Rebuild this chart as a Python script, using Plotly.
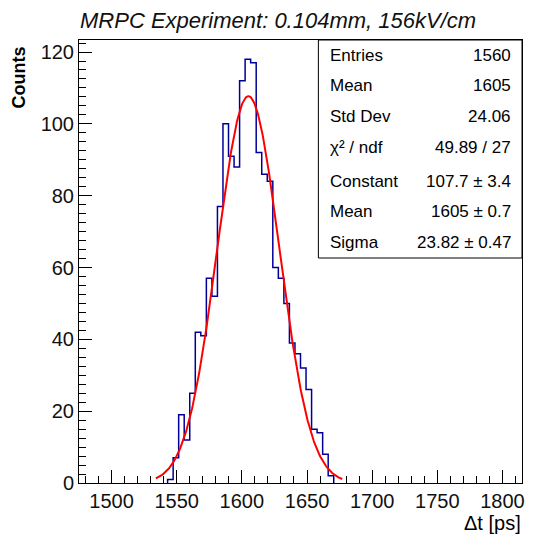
import numpy as np
import plotly.graph_objects as go

# ---- data ----
axis_x_range = [1475, 1815]
axis_y_range = [0, 123.35]
bin_width = 4.25
first_bin_low = 1543.0
counts = [1, 7, 19, 12, 25, 42, 41, 57, 52, 77, 100, 91, 88, 112, 118, 117, 92,
          86, 84, 60, 57, 50, 39, 36, 32, 26, 15, 14, 8, 2]

fit_constant = 107.7
fit_mean = 1605.0
fit_sigma = 23.82
fit_x_range = [1534, 1677]

x_ticks = [1500, 1550, 1600, 1650, 1700, 1750, 1800]
y_ticks = [0, 20, 40, 60, 80, 100, 120]

stats_labels = ["Entries", "Mean", "Std Dev", "χ² / ndf", "Constant", "Mean", "Sigma"]
stats_values = ["1560", "1605", "24.06", "49.89 / 27", "107.7 ± 3.4", "1605 ± 0.7", "23.82 ± 0.47"]

title_text = "MRPC Experiment: 0.104mm, 156kV/cm"
x_title = "Δt [ps]"
y_title = "Counts"

# ---- build ----
n = len(counts)
edges = [first_bin_low + i * bin_width for i in range(n + 1)]
hx = [edges[0]] + edges[:n] + [edges[n]]
hy = [0] + counts + [0]

fx = np.linspace(fit_x_range[0], fit_x_range[1], 300)
fy = fit_constant * np.exp(-0.5 * ((fx - fit_mean) / fit_sigma) ** 2)

W, H = 535, 534
L, R, T, B = 79, 10, 40, 51
pw, ph = W - L - R, H - T - B

def px(x):
    return (x - L) / pw

def py(y):
    return (H - B - y) / ph

FONT = "Liberation Sans"

fig = go.Figure()
fig.add_trace(go.Scatter(x=hx, y=hy, mode="lines", line=dict(color="#000099", width=1.5, shape="hv"),
                         hoverinfo="skip", showlegend=False))
fig.add_trace(go.Scatter(x=fx, y=fy, mode="lines", line=dict(color="#ff0000", width=2),
                         hoverinfo="skip", showlegend=False))

axis_common = dict(
    showgrid=False, zeroline=False, showline=True, linecolor="black", linewidth=1, mirror=True,
    ticks="inside", ticklen=13, tickcolor="black", tickwidth=1,
    tickfont=dict(family=FONT, size=20, color="#111111"),
)
fig.update_xaxes(range=axis_x_range, tickvals=x_ticks, ticktext=[str(v) for v in x_ticks],
                 minor=dict(dtick=10, tick0=1500, ticks="inside", ticklen=7, tickcolor="black"),
                 **axis_common)
fig.update_yaxes(range=axis_y_range, tickvals=y_ticks, ticktext=[str(v) for v in y_ticks],
                 minor=dict(dtick=2.5, tick0=0, ticks="inside", ticklen=7, tickcolor="black"),
                 **axis_common)

shapes = [dict(type="rect", xref="paper", yref="paper", x0=px(320), x1=1.0, y0=py(258), y1=1.0,
               line=dict(color="black", width=1), fillcolor="white", layer="above")]

annotations = []
row_y = [55, 85, 117, 147, 181, 211, 242]
for lab, val, yy in zip(stats_labels, stats_values, row_y):
    annotations.append(dict(x=px(330), y=py(yy), xref="paper", yref="paper", text=lab,
                            xanchor="left", yanchor="middle", showarrow=False,
                            font=dict(family=FONT, size=17, color="black")))
    annotations.append(dict(x=px(516), y=py(yy), xref="paper", yref="paper", text=val,
                            xanchor="right", yanchor="middle", showarrow=False,
                            font=dict(family=FONT, size=17, color="black")))

annotations.append(dict(x=px(279), y=py(20), xref="paper", yref="paper", text=title_text,
                        xanchor="center", yanchor="middle", showarrow=False,
                        font=dict(family=FONT, size=22, color="#111111", style="italic")))
annotations.append(dict(x=px(19), y=py(77), xref="paper", yref="paper", text=y_title, textangle=-90,
                        xanchor="center", yanchor="middle", showarrow=False,
                        font=dict(family=FONT, size=18, color="black", weight="bold")))
annotations.append(dict(x=px(526), y=py(523), xref="paper", yref="paper", text=x_title,
                        xanchor="right", yanchor="middle", showarrow=False,
                        font=dict(family=FONT, size=20, color="black")))

fig.update_layout(width=W, height=H, margin=dict(l=L, r=R, t=T, b=B, pad=0),
                  plot_bgcolor="white", paper_bgcolor="white",
                  shapes=shapes, annotations=annotations, showlegend=False)

fig.write_html("out.html")
